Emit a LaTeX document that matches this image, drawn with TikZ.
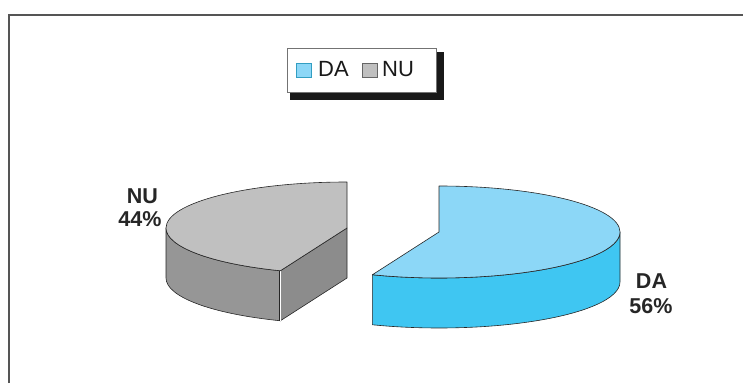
\documentclass[tikz,border=0pt]{standalone}
\usepackage{fontspec}
\setmainfont{Liberation Sans}
\usetikzlibrary{calc}
\definecolor{daTop}{HTML}{8CD7F7}
\definecolor{daSide}{HTML}{3FC6F2}
\definecolor{nuTop}{HTML}{C0C0C0}
\definecolor{nuSide}{HTML}{969696}
\definecolor{nuCut}{HTML}{8C8C8C}
\definecolor{frameGray}{HTML}{555555}
\def\sliceside[#1](#2)(#3:#4){\draw[#1] ($(#2)+({181*cos(#3)},{46*sin(#3)})$) arc[start angle=#3, end angle=#4, x radius=181pt, y radius=46pt] -- ++(0,-50) arc[start angle=#4, end angle=#3, x radius=181pt, y radius=46pt] -- cycle;}
\tikzset{
  edge/.style={draw=black!85, line width=0.6pt, line join=round},
  pielabel/.style={inner sep=0pt, anchor=base, font=\fontsize{21.5}{24}\selectfont\bfseries, text=black!85},
  legendtext/.style={inner sep=0pt, anchor=base west, font=\fontsize{22}{24}\selectfont, text=black!90},
}
\begin{document}
\begin{tikzpicture}[x=1pt, y=1pt]
		%%%%% START %%%%%
		\useasboundingbox (0, 0) rectangle (743, 383);
		
		\draw[line width=1.5pt, color=frameGray] (9, 0) -- (9, 368) -- (743, 368);
		
		% legend
		\fill[black!90] (290, 283) rectangle (444, 331);
		\draw[fill=white, line width=0.6pt, draw=black!55] (287, 291) rectangle (436, 335);
		\draw[fill=daTop, line width=0.6pt, draw=daSide!80!black] (296, 306) rectangle (311, 320);
		\node[legendtext] (legda) at (318, 306) {DA};
		\draw[fill=nuTop, line width=0.6pt, draw=black!60] (362, 306) rectangle (377, 320);
		\node[legendtext] (legnu) at (382, 306) {NU};
		
		% NU slice
		\coordinate (nuc) at (347, 155);
		\coordinate (nuf) at ($(nuc)+({181*cos(248.4)},{46*sin(248.4)})$);
		\sliceside[edge, fill=nuSide](nuc)(180:248.4);
		\draw[edge, fill=nuCut] (nuc) -- (nuf) -- ++(0, -50) -- ($(nuc)+(0, -50)$) -- cycle;
		\draw[double=white, double distance=1pt, line width=0.5pt, draw=black!85] (nuf) -- ++(0, -50);
		\draw[edge, fill=nuTop] (nuc) -- ++(0, 46) arc[start angle=90, end angle=248.4, x radius=181pt, y radius=46pt] -- cycle;
		
		% DA slice
		\coordinate (dac) at (439, 151);
		\sliceside[edge, fill=daSide](dac)(-111.6:0);
		\draw[edge, fill=daTop] (dac) -- ++(0, 46) arc[start angle=90, end angle=-111.6, x radius=181pt, y radius=46pt] -- cycle;
		
		\node[pielabel] (nuname) at (142.5, 179) {NU};
		\node[pielabel] (nuval) at (140, 157) {44\%};
		\node[pielabel] (daname) at (651.5, 95) {DA};
		\node[pielabel] (daval) at (651, 70) {56\%};
		%%%%% END %%%%%
	\end{tikzpicture}
\end{document}
